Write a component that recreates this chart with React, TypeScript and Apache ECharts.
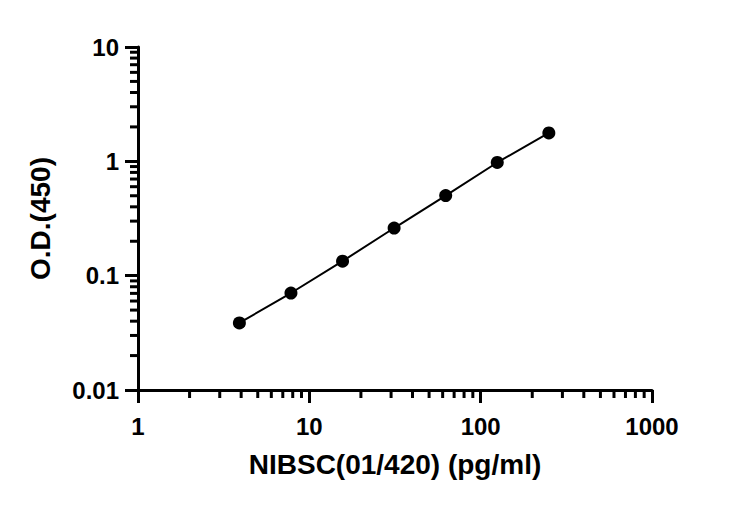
import React, { useEffect, useRef } from "react";
import * as echarts from "echarts";

const concentrations = [3.90625, 7.8125, 15.625, 31.25, 62.5, 125, 250];
const odValues = [0.0386, 0.0705, 0.134, 0.261, 0.502, 0.977, 1.77];
const xMinorTicks = [2, 3, 4, 5, 6, 7, 8, 9, 20, 30, 40, 50, 60, 70, 80, 90, 200, 300, 400, 500, 600, 700, 800, 900];
const yMinorTicks = [0.02, 0.03, 0.04, 0.05, 0.06, 0.07, 0.08, 0.09, 0.2, 0.3, 0.4, 0.5, 0.6, 0.7, 0.8, 0.9, 2, 3, 4, 5, 6, 7, 8, 9];
const xTitle = "NIBSC(01/420) (pg/ml)";
const yTitle = "O.D.(450)";

const FONT = "Liberation Sans, Arial, sans-serif";

export default function App() {
  const ref = useRef<HTMLDivElement>(null);
  useEffect(() => {
    if (!ref.current) return;
    const chart = echarts.init(ref.current, null, { renderer: "svg" });
    const fmt = (v: number) => String(parseFloat(Number(v).toPrecision(3)));
    chart.setOption({
      animation: false,
      backgroundColor: "#fff",
      grid: { left: 138, right: 80, top: 47, bottom: 117, containLabel: false },
      xAxis: {
        type: "log",
        logBase: 10,
        min: 1,
        max: 1000,
        name: xTitle,
        nameLocation: "middle",
        nameGap: 60,
        nameTextStyle: { fontFamily: FONT, fontWeight: "bold", fontSize: 28, color: "#000" },
        axisLine: { show: true, lineStyle: { color: "#000", width: 3 } },
        axisTick: { show: true, length: 13, lineStyle: { color: "#000", width: 3 } },
        axisLabel: { margin: 24, fontFamily: FONT, fontWeight: "bold", fontSize: 24, color: "#000", formatter: fmt },
        splitLine: { show: false },
      },
      yAxis: {
        type: "log",
        logBase: 10,
        min: 0.01,
        max: 10,
        name: yTitle,
        nameLocation: "middle",
        nameGap: 84,
        nameTextStyle: { fontFamily: FONT, fontWeight: "bold", fontSize: 28, color: "#000" },
        axisLine: { show: true, lineStyle: { color: "#000", width: 3 } },
        axisTick: { show: true, length: 13, lineStyle: { color: "#000", width: 3 } },
        axisLabel: { margin: 19, fontFamily: FONT, fontWeight: "bold", fontSize: 24, color: "#000", formatter: fmt },
        splitLine: { show: false },
      },
      series: [
        {
          type: "line",
          data: concentrations.map((x, i) => [x, odValues[i]]),
          symbol: "circle",
          symbolSize: 13,
          itemStyle: { color: "#000" },
          lineStyle: { color: "#000", width: 2 },
          z: 5,
        },
        {
          type: "custom",
          coordinateSystem: "cartesian2d",
          clip: false,
          silent: true,
          data: xMinorTicks.map((v) => [v, 0.01]),
          renderItem: (_p: any, api: any) => {
            const pt = api.coord([api.value(0), api.value(1)]);
            return {
              type: "line",
              shape: { x1: pt[0], y1: pt[1], x2: pt[0], y2: pt[1] + 8 },
              style: { stroke: "#000", lineWidth: 3 },
            };
          },
        },
        {
          type: "custom",
          coordinateSystem: "cartesian2d",
          clip: false,
          silent: true,
          data: yMinorTicks.map((v) => [1, v]),
          renderItem: (_p: any, api: any) => {
            const pt = api.coord([api.value(0), api.value(1)]);
            return {
              type: "line",
              shape: { x1: pt[0] - 8, y1: pt[1], x2: pt[0], y2: pt[1] },
              style: { stroke: "#000", lineWidth: 3 },
            };
          },
        },
      ],
    });
    return () => chart.dispose();
  }, []);
  return <div ref={ref} style={{ position: "fixed", left: 0, top: 0, width: 732, height: 507 }} />;
}
